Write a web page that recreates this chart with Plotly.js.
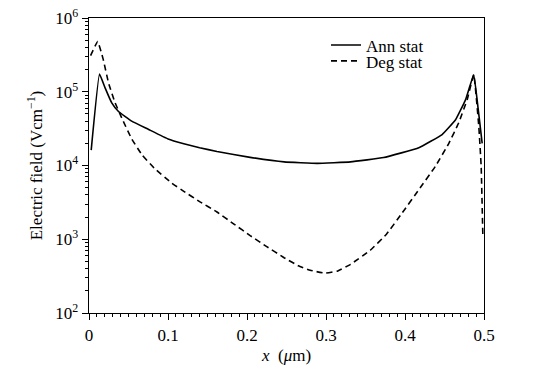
<!DOCTYPE html>
<html>
<head>
<meta charset="utf-8">
<script src="https://cdn.plot.ly/plotly-3.0.1.min.js"></script>
<style>html,body{margin:0;padding:0;background:#fff;}#chart{width:538px;height:382px;}</style>
</head>
<body>
<div id="chart"></div>
<script>
const annX = [0.0028, 0.0133, 0.0205, 0.029, 0.0373, 0.054, 0.075, 0.100, 0.120, 0.140, 0.162, 0.204, 0.247, 0.289, 0.331, 0.373, 0.4175, 0.447, 0.464, 0.4766, 0.487, 0.4927, 0.4977];
const annY = [1.62e4, 1.74e5, 1.12e5, 7.0e4, 5.4e4, 4.0e4, 3.1e4, 2.29e4, 1.97e4, 1.74e4, 1.55e4, 1.29e4, 1.12e4, 1.07e4, 1.12e4, 1.28e4, 1.74e4, 2.63e4, 4.17e4, 7.76e4, 1.7e5, 5.75e4, 2.0e4];
const degX = [0.002, 0.011, 0.018, 0.0247, 0.033, 0.0415, 0.054, 0.067, 0.083, 0.105, 0.120, 0.140, 0.162, 0.183, 0.204, 0.225, 0.247, 0.265, 0.280, 0.299, 0.315, 0.331, 0.356, 0.3765, 0.396, 0.4175, 0.4386, 0.4555, 0.468, 0.4787, 0.487, 0.4934, 0.4964, 0.4985];
const degY = [3.09e5, 4.8e5, 2.75e5, 1.32e5, 7.1e4, 4.4e4, 2.3e4, 1.4e4, 9.1e3, 5.75e3, 4.47e3, 3.24e3, 2.34e3, 1.62e3, 1.12e3, 794, 562, 437, 380, 347, 372, 457, 708, 1.17e3, 2.24e3, 4.7e3, 9.8e3, 2.0e4, 3.8e4, 7.8e4, 1.7e5, 3.4e4, 9.8e3, 1.15e3];
const seriesNames = ["Ann stat", "Deg stat"];
const yTickVals = [1e2, 1e3, 1e4, 1e5, 1e6];
const yTickText = ["10<sup>2</sup>", "10<sup>3</sup>", "10<sup>4</sup>", "10<sup>5</sup>", "10<sup>6</sup>"];
const xTickVals = [0, 0.1, 0.2, 0.3, 0.4, 0.5];
const xTickText = ["0", "0.1", "0.2", "0.3", "0.4", "0.5"];

const font = "Liberation Serif";
const fs = 17;
const traces = [
  {x: annX, y: annY, name: seriesNames[0], type: "scatter", mode: "lines", legend: "legend",
   line: {color: "#000", width: 1.6, shape: "spline", smoothing: 0.3}},
  {x: degX, y: degY, name: seriesNames[1], type: "scatter", mode: "lines", legend: "legend2",
   line: {color: "#000", width: 1.6, dash: "6px,4px", shape: "spline", smoothing: 0.3}}
];
const legendBase = {x: 0.6, xanchor: "left", yanchor: "top", bgcolor: "rgba(0,0,0,0)",
                    font: {family: font, size: fs, color: "#000"}, itemwidth: 30};
const layout = {
  width: 538, height: 382,
  margin: {l: 89, r: 54, t: 18, b: 69},
  paper_bgcolor: "#fff", plot_bgcolor: "#fff",
  font: {family: font, size: fs, color: "#000"},
  showlegend: true,
  legend: Object.assign({}, legendBase, {y: 0.968}),
  legend2: Object.assign({}, legendBase, {y: 0.914}),
  xaxis: {
    range: [0, 0.5], showgrid: false, zeroline: false,
    showline: true, linecolor: "#000", linewidth: 1.3, mirror: true,
    ticks: "outside", ticklen: 6, tickcolor: "#000", tickwidth: 1,
    tickvals: xTickVals, ticktext: xTickText,
    tickfont: {family: font, size: fs},
    minor: {dtick: 0.01, ticks: "outside", ticklen: 3, tickcolor: "#000", showgrid: false},
    title: {text: "<i>x</i>  (<i>μ</i>m)", font: {family: font, size: fs}, standoff: 5}
  },
  yaxis: {
    type: "log", range: [2, 6], showgrid: false, zeroline: false,
    showline: true, linecolor: "#000", linewidth: 1.3, mirror: true,
    ticks: "outside", ticklen: 6, tickcolor: "#000", tickwidth: 1,
    tickvals: yTickVals, ticktext: yTickText,
    tickfont: {family: font, size: fs},
    minor: {dtick: "D1", ticks: "outside", ticklen: 3, tickcolor: "#000", showgrid: false},
    title: {text: "Electric field (Vcm<sup>−1</sup>)", font: {family: font, size: fs}, standoff: 8}
  }
};
Plotly.newPlot("chart", traces, layout, {displayModeBar: false, staticPlot: true});
</script>
</body>
</html>
